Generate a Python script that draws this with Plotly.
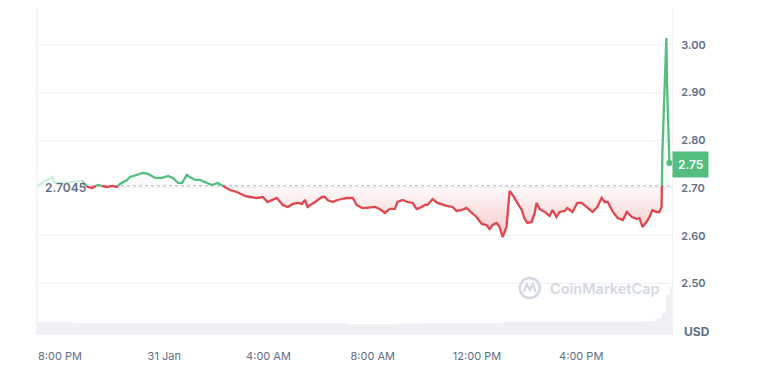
import datetime as dt
import plotly.graph_objects as go

# ---------------- data ----------------
base_time = dt.datetime(2025, 1, 30, 20, 0)
baseline_price = 2.7045
last_price_label = "2.75"

# minutes after 30 Jan 8:00 PM
minutes = [-53, -18, -12, 7, 30, 51, 53, 64, 74, 87, 108, 120, 131, 138, 154, 161, 177, 191, 203,
           219, 235, 249, 260, 272, 281, 292, 299, 311, 322, 334, 350, 363, 375, 391, 407, 426,
           437, 453, 467, 478, 499, 513, 524, 536, 547, 557, 564, 570, 587, 603, 610, 616, 628,
           639, 649, 660, 674, 683, 695, 706, 725, 736, 748, 759, 771, 777, 789, 800, 812, 821,
           833, 840, 846, 858, 869, 881, 890, 904, 913, 925, 936, 948, 959, 971, 982, 989, 996,
           1005, 1012, 1019, 1028, 1035, 1042, 1053, 1063, 1069, 1076, 1086, 1093, 1097, 1104,
           1116, 1127, 1134, 1143, 1150, 1162, 1168, 1180, 1191, 1201, 1212, 1226, 1237, 1247,
           1254, 1261, 1273, 1284, 1296, 1305, 1317, 1328, 1334, 1341, 1350, 1357, 1364, 1373,
           1380, 1385, 1387, 1396, 1398, 1403]
prices = [2.7042, 2.7231, 2.7105, 2.7105, 2.7126, 2.7147, 2.7105, 2.7021, 2.7000, 2.7063, 2.7021,
          2.7042, 2.7021, 2.7084, 2.7168, 2.7231, 2.7273, 2.7314, 2.7294, 2.7210, 2.7210, 2.7252,
          2.7210, 2.7105, 2.7105, 2.7273, 2.7231, 2.7168, 2.7168, 2.7126, 2.7063, 2.7105, 2.7042,
          2.6958, 2.6916, 2.6832, 2.6811, 2.6790, 2.6811, 2.6706, 2.6790, 2.6644, 2.6602, 2.6665,
          2.6686, 2.6665, 2.6748, 2.6602, 2.6706, 2.6811, 2.6811, 2.6748, 2.6706, 2.6748, 2.6769,
          2.6790, 2.6790, 2.6644, 2.6581, 2.6581, 2.6602, 2.6560, 2.6476, 2.6560, 2.6560, 2.6706,
          2.6748, 2.6706, 2.6686, 2.6560, 2.6602, 2.6644, 2.6644, 2.6769, 2.6686, 2.6644, 2.6623,
          2.6602, 2.6518, 2.6539, 2.6581, 2.6476, 2.6392, 2.6245, 2.6224, 2.6140, 2.6224, 2.6266,
          2.6182, 2.5973, 2.6182, 2.6937, 2.6853, 2.6686, 2.6539, 2.6371, 2.6266, 2.6287, 2.6476,
          2.6686, 2.6560, 2.6497, 2.6413, 2.6539, 2.6392, 2.6497, 2.6518, 2.6581, 2.6497, 2.6686,
          2.6686, 2.6602, 2.6497, 2.6602, 2.6790, 2.6706, 2.6706, 2.6497, 2.6371, 2.6329, 2.6497,
          2.6392, 2.6350, 2.6371, 2.6182, 2.6287, 2.6392, 2.6539, 2.6497, 2.6497, 2.6602, 2.7797,
          3.0145, 2.9055, 2.7524]

vol_minutes = [-53, -30, 0, 30, 60, 120, 180, 240, 300, 360, 420, 480, 540, 600, 660, 720, 780,
               840, 900, 960, 1020, 1080, 1140, 1200, 1260, 1320, 1350, 1370, 1385, 1395, 1403, 1409]
volume_m = [1.3, 1.3, 1.3, 1.2, 1.2, 1.2, 1.2, 1.2, 1.2, 1.2, 1.2, 1.2, 1.2, 1.2, 1.1, 1.1, 1.15,
            1.2, 1.2, 1.2, 1.35, 1.35, 1.35, 1.35, 1.35, 1.35, 1.4, 1.6, 2.2, 4.0, 4.8, 4.8]

tick_minutes = [0, 240, 480, 720, 960, 1200]
tick_labels = ["8:00 PM", "31 Jan", "4:00 AM", "8:00 AM", "12:00 PM", "4:00 PM"]
ytick_vals = [2.5, 2.6, 2.7, 2.8, 2.9, 3.0]
ytick_text = ["2.50", "2.60", "2.70", "2.80", "2.90", "3.00"]

# ---------------- styling ----------------
GREEN = "#53be80"
RED = "#e0464e"
GRID = "#eff1f4"
TXT = "#616e85"
FONT = "Inter"


def t(m):
    return base_time + dt.timedelta(minutes=m)


# split series at baseline crossings
xs, ys = [], []
for i in range(len(minutes)):
    if i > 0:
        p0, p1 = prices[i - 1], prices[i]
        if (p0 - baseline_price) * (p1 - baseline_price) < 0:
            m0, m1 = minutes[i - 1], minutes[i]
            mc = m0 + (baseline_price - p0) / (p1 - p0) * (m1 - m0)
            xs.append(mc)
            ys.append(baseline_price)
    xs.append(minutes[i])
    ys.append(prices[i])

xt = [t(m) for m in xs]
green_y = [y if y >= baseline_price else None for y in ys]
red_y = [y if y <= baseline_price else None for y in ys]
red_fill = [min(y, baseline_price) for y in ys]
green_fill = [max(y, baseline_price) for y in ys]
base_line = [baseline_price] * len(ys)

fig = go.Figure()

# volume
fig.add_trace(go.Scatter(x=[t(m) for m in vol_minutes], y=volume_m, yaxis="y2", mode="lines",
                         line=dict(width=0, shape="hv"), fill="tozeroy", fillcolor="#eef0f3",
                         hoverinfo="skip", showlegend=False))

# fills
fig.add_trace(go.Scatter(x=xt, y=base_line, mode="lines", line=dict(width=0),
                         hoverinfo="skip", showlegend=False))
fig.add_trace(go.Scatter(x=xt, y=red_fill, mode="lines", line=dict(width=0), fill="tonexty",
                         fillgradient=dict(type="vertical", start=2.595, stop=baseline_price,
                                           colorscale=[[0, "rgba(224,70,78,0.30)"],
                                                       [1, "rgba(224,70,78,0.02)"]]),
                         hoverinfo="skip", showlegend=False))
fig.add_trace(go.Scatter(x=xt, y=base_line, mode="lines", line=dict(width=0),
                         hoverinfo="skip", showlegend=False))
fig.add_trace(go.Scatter(x=xt, y=green_fill, mode="lines", line=dict(width=0), fill="tonexty",
                         fillcolor="rgba(83,190,128,0.04)",
                         hoverinfo="skip", showlegend=False))

# lines
fig.add_trace(go.Scatter(x=xt, y=red_y, mode="lines", line=dict(color=RED, width=2.3),
                         connectgaps=False, showlegend=False))
fig.add_trace(go.Scatter(x=xt, y=green_y, mode="lines", line=dict(color=GREEN, width=2.3),
                         connectgaps=False, showlegend=False))
fig.add_trace(go.Scatter(x=[t(minutes[-1])], y=[prices[-1]], mode="markers",
                         marker=dict(color=GREEN, size=6), showlegend=False))

y_min, y_max = 2.3918, 3.0773
fig.update_layout(
    width=760, height=375,
    margin=dict(l=29, r=96, t=0, b=48),
    paper_bgcolor="white", plot_bgcolor="white",
    font=dict(family=FONT, color=TXT),
    xaxis=dict(range=[t(-53), t(1409)], tickvals=[t(m) for m in tick_minutes], ticktext=tick_labels,
               showgrid=False, zeroline=False, showline=False, ticks="",
               tickfont=dict(size=11, color=TXT, family=FONT), ticklabelstandoff=13),
    yaxis=dict(range=[y_min, y_max], side="right", tickvals=ytick_vals, ticktext=ytick_text,
               showgrid=True, gridcolor=GRID, gridwidth=1, zeroline=False,
               showline=True, linecolor=GRID, linewidth=1, ticks="",
               tickfont=dict(size=11, color=TXT, family=FONT, weight=600), ticklabelstandoff=6),
    yaxis2=dict(range=[0, 32.7], overlaying="y", visible=False),
    showlegend=False,
    shapes=[
        dict(type="line", xref="x domain", yref="y domain", x0=0, x1=0, y0=0, y1=1,
             line=dict(color=GRID, width=1.5)),
        dict(type="line", xref="x domain", yref="y", x0=0, x1=1, y0=baseline_price, y1=baseline_price,
             line=dict(color="#a9aeb8", width=1, dash="dot"), layer="below"),
        dict(type="rect", xref="x domain", yref="y", x0=0, x1=0.072, y0=2.685, y1=2.735,
             fillcolor="rgba(255,255,255,0.72)", line=dict(width=0), layer="above"),
        dict(type="circle", xref="paper", yref="paper", xsizemode="pixel", ysizemode="pixel",
             xanchor=0.776, yanchor=0.1437, x0=-10, x1=10, y0=-10, y1=10,
             line=dict(color="#d3d8e2", width=2.5)),
        dict(type="path", xref="paper", yref="paper", xsizemode="pixel", ysizemode="pixel",
             xanchor=0.776, yanchor=0.1437, path="M -6,-4 L -3,4 L 0,-2 L 3,4 L 6,-4",
             line=dict(color="#d3d8e2", width=2.2)),
    ],
    annotations=[
        dict(text="2.7045", xref="x domain", yref="y", x=0, y=baseline_price, xanchor="left",
             yanchor="middle", xshift=6, yshift=-2, showarrow=False,
             font=dict(size=12, color=TXT, family=FONT, weight=600)),
        dict(text=last_price_label, xref="paper", yref="y", x=1, y=2.75, xanchor="left",
             yanchor="middle", showarrow=False, bgcolor=GREEN, borderpad=5,
             font=dict(size=12, color="white", family=FONT, weight=600)),
        dict(text="USD", xref="paper", yref="y", x=1, y=2.40, xanchor="left", yanchor="middle",
             xshift=10, showarrow=False, font=dict(size=12, color=TXT, family=FONT, weight=700)),
        dict(text="CoinMarketCap", xref="paper", yref="paper", x=0.8047, y=0.1437,
             xanchor="left", yanchor="middle", showarrow=False,
             font=dict(size=14.5, color="#d3d8e2", family=FONT, weight=600)),
    ],
)

fig.write_html("out.html")
